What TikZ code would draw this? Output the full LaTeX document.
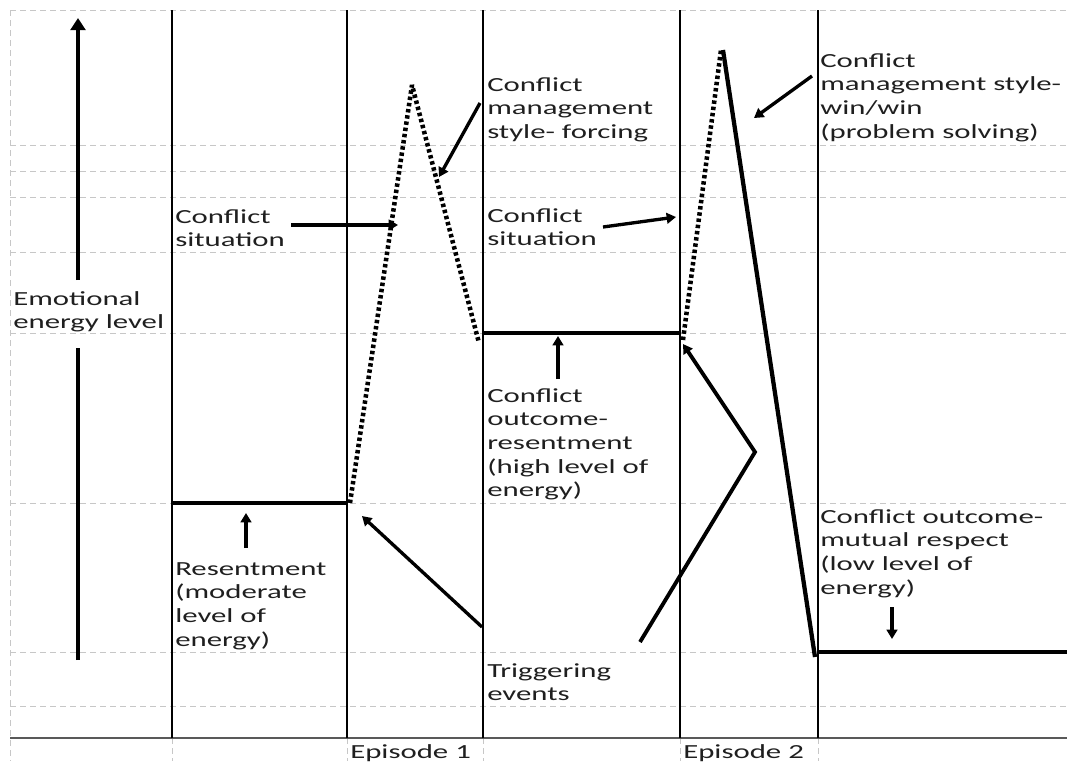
\documentclass[tikz,border=0pt]{standalone}
\usepackage{fontspec}
\setmainfont{Carlito}[FakeStretch=1.54]
\usetikzlibrary{arrows.meta}
\newcommand{\lns}[1]{\begin{tabular}[t]{@{}l@{}}#1\end{tabular}}
\begin{document}
\begin{tikzpicture}[x=0.75pt,y=-0.75pt,
  grid/.style={draw=black!22, dash pattern=on 4.5pt off 3pt, line width=0.6pt},
  divider/.style={line width=2pt},
  level/.style={line width=2.7pt},
  dotline/.style={line width=3.4pt, dash pattern=on 2.6pt off 2.1pt, line join=bevel},
  peakline/.style={line width=3.2pt},
  arr/.style={line width=2.5pt, -{Triangle[length=7pt,width=8pt]}},
  axisline/.style={line width=3.5pt},
  lab/.style={anchor=base west, inner sep=0pt, font=\fontsize{15}{17.8}\selectfont, text=black!88}]
\useasboundingbox (0,0) rectangle (1067,761);
% grid
\foreach \y in {10,145,171,197,252,333,503,652,706}
  \draw[grid] (10,\y) -- (1067,\y);
\draw[grid] (10,10) -- (10,761);
\foreach \x in {172,347,483,680,818}
  \draw[grid] (\x,738) -- (\x,761);
\draw[black!65, line width=1.3pt] (10,738) -- (1067,738);
% dividers
\foreach \x in {172,347,483,680,818}
  \draw[divider] (\x,10) -- (\x,738);
% labels
\node[lab] (ylab) at (13,305) {\lns{Emotional\\energy level}};
\node[lab] (sit1) at (175,223) {\lns{Conflict\\situation}};
\node[lab] (force) at (487,91) {\lns{Conflict\\management\\style- forcing}};
\node[lab] (sit2) at (487,222) {\lns{Conflict\\situation}};
\node[lab] (winwin) at (820,67) {\lns{Conflict\\management style-\\win/win\\(problem solving)}};
\node[lab] (outres) at (487,402) {\lns{Conflict\\outcome-\\resentment\\(high level of\\energy)}};
\node[lab] (resent) at (175,575) {\lns{Resentment\\(moderate\\level of\\energy)}};
\node[lab] (trig) at (487,677) {\lns{Triggering\\events}};
\node[lab] (mutual) at (820,523) {\lns{Conflict outcome-\\mutual respect\\(low level of\\energy)}};
\node[lab] (ep1) at (350,758) {Episode 1};
\node[lab] (ep2) at (683,758) {Episode 2};
% axis
\coordinate (axtop) at (78,18);
\coordinate (axup) at (78,280);
\coordinate (axlo) at (78,348);
\coordinate (axbot) at (78,660);
\draw[axisline] (axbot) -- (axlo);
\draw[axisline, -{Triangle[length=9pt,width=11pt]}] (axup) -- (axtop);
% levels
\coordinate (l1a) at (172,503); \coordinate (l1b) at (347,503);
\coordinate (l2a) at (483,333); \coordinate (l2b) at (680,333);
\coordinate (l3a) at (818,652); \coordinate (l3b) at (1067,652);
\draw[level] (l1a) -- (l1b);
\draw[level] (l2a) -- (l2b);
\draw[level] (l3a) -- (l3b);
% episode 1 peak
\coordinate (p1s) at (350,503);
\coordinate (p1t) at (412,85);
\coordinate (p1e) at (479,343);
\draw[dotline] (p1s) -- (p1t) -- (p1e);
% episode 2 peak
\coordinate (p2s) at (683,340);
\coordinate (p2t) at (721,50);
\coordinate (p2u) at (723,50);
\coordinate (p2e) at (815,657);
\draw[dotline] (p2s) -- (p2t);
\draw[peakline] (p2u) -- (p2e);
% arrows
\coordinate (a1s) at (291,225); \coordinate (a1e) at (398,225);
\coordinate (a2s) at (603,227); \coordinate (a2e) at (676,217);
\coordinate (a3s) at (480,103); \coordinate (a3e) at (439,177);
\coordinate (a4s) at (812,76);  \coordinate (a4e) at (754,118);
\coordinate (a5s) at (246,548); \coordinate (a5e) at (246,513);
\coordinate (a6s) at (558,379); \coordinate (a6e) at (558,336);
\coordinate (a7s) at (892,607); \coordinate (a7e) at (892,639);
\coordinate (a8s) at (482,627); \coordinate (a8e) at (362,516);
\coordinate (a9s) at (640,642); \coordinate (a9m) at (755,452); \coordinate (a9e) at (683,344);
\draw[arr] (a1s) -- (a1e);
\draw[arr] (a2s) -- (a2e);
\draw[arr] (a3s) -- (a3e);
\draw[arr] (a4s) -- (a4e);
\draw[arr] (a5s) -- (a5e);
\draw[arr] (a6s) -- (a6e);
\draw[arr] (a7s) -- (a7e);
\draw[arr] (a8s) -- (a8e);
\draw[arr, line width=2.9pt] (a9s) -- (a9m) -- (a9e);
\end{tikzpicture}
\end{document}
